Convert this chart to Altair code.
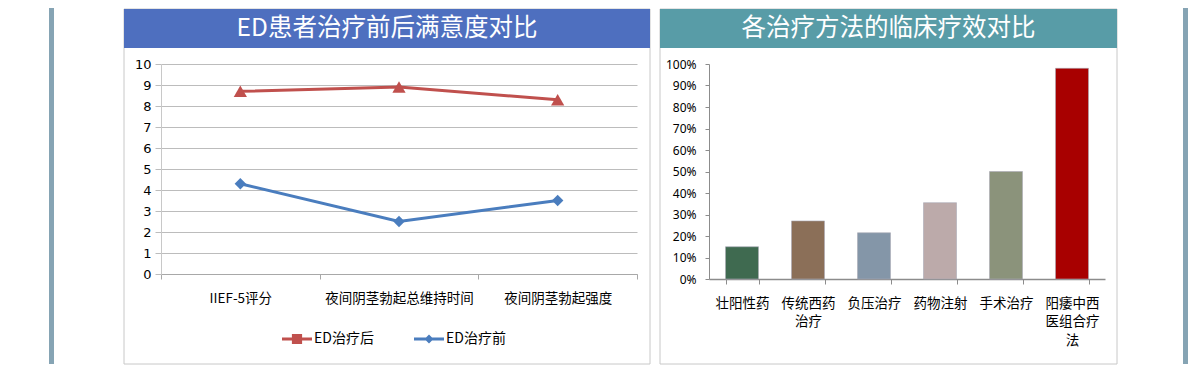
import altair as alt
import pandas as pd

# ---------------- data ----------------
titles = ["ED患者治疗前后满意度对比", "各治疗方法的临床疗效对比"]

metrics = ["IIEF-5评分", "夜间阴茎勃起总维持时间", "夜间阴茎勃起强度"]
series_names = ["ED治疗后", "ED治疗前"]
after_vals = [8.7, 8.9, 8.3]
before_vals = [4.3, 2.5, 3.5]
left_ticks = [0, 1, 2, 3, 4, 5, 6, 7, 8, 9, 10]

methods = ["壮阳性药", "传统西药治疗", "负压治疗", "药物注射", "手术治疗", "阳痿中西医组合疗法"]
efficacy = [0.15, 0.27, 0.215, 0.355, 0.50, 0.98]
right_ticks = [0, 0.1, 0.2, 0.3, 0.4, 0.5, 0.6, 0.7, 0.8, 0.9, 1.0]

# ---------------- styles ----------------
CJK = "Noto Sans CJK SC"
LAT = "Noto Sans"
RED, BLUE = "#c0504d", "#4a7dbe"
line_colors = [RED, BLUE]
bar_colors = ["#3f6a50", "#8b6f58", "#8496a8", "#bcaaaa", "#8b937b", "#a80000"]
side_bar = "#86a4b4"
border = "#c8c8c8"

left_df = pd.DataFrame({
    "metric": metrics * 2,
    "series": [series_names[0]] * 3 + [series_names[1]] * 3,
    "value": after_vals + before_vals,
})
right_df = pd.DataFrame({"method": methods, "eff": efficacy})

# legend symbols: line + marker
path_after = "M-1,-0.1H1V0.1H-1Z M-0.34,-0.34H0.34V0.34H-0.34Z"
path_before = "M-1,-0.1H1V0.1H-1Z M0,-0.3L0.3,0L0,0.3L-0.3,0Z"

# ---------------- left panel ----------------
LW, LH = 476, 210
t_left = pd.DataFrame({"t": [titles[0]]})
base_deco_l = alt.Chart(t_left)
deco_l = alt.layer(
    base_deco_l.mark_rect(color=side_bar).encode(
        x=alt.value(-112), x2=alt.value(-107), y=alt.value(-56), y2=alt.value(300)),
    base_deco_l.mark_rect(fillOpacity=0, stroke=border, strokeWidth=1).encode(
        x=alt.value(-37), x2=alt.value(489), y=alt.value(-55), y2=alt.value(300)),
    base_deco_l.mark_rect(color="#4e6fbf").encode(
        x=alt.value(-37), x2=alt.value(489), y=alt.value(-55), y2=alt.value(-16)),
    base_deco_l.mark_text(color="white", font=CJK, fontSize=24.5, align="center",
                          baseline="middle").encode(
        text="t:N", x=alt.value(226), y=alt.value(-35)),
)

xl = alt.X("metric:N", sort=metrics, title=None, bandPosition=0.5,
           scale=alt.Scale(type="band", paddingInner=0, paddingOuter=0),
           axis=alt.Axis(labelAngle=0, labelFont=CJK, labelFontSize=13.5, labelColor="#000",
                         labelPadding=12, tickSize=5, tickBand="extent", tickColor="#a8a8a8",
                         domainColor="#a8a8a8", grid=False))
yl = alt.Y("value:Q", title=None, scale=alt.Scale(domain=[0, 10], nice=False),
           axis=alt.Axis(values=left_ticks, grid=True, gridColor="#bcbcbc", tickSize=6,
                         tickColor="#bcbcbc", domainColor="#c8c8c8", labelFont="DejaVu Sans",
                         labelFontSize=13, labelColor="#000", labelPadding=4))

base_l = alt.Chart(left_df)
after_only = base_l.transform_filter(alt.datum.series == series_names[0])
before_only = base_l.transform_filter(alt.datum.series == series_names[1])

line_after = after_only.mark_line(strokeWidth=3, color=RED).encode(x=xl, y=yl)
line_before = before_only.mark_line(strokeWidth=3, color=BLUE).encode(x=xl, y=yl)
pts_after = after_only.mark_point(shape="triangle-up", filled=True, size=175, opacity=1,
                                  color=RED).encode(x=xl, y=yl)
pts_before = before_only.mark_point(shape="diamond", filled=True, size=130, opacity=1,
                                    color=BLUE).encode(x=xl, y=yl)

leg = alt.Legend(title=None, orient="none", legendX=121, legendY=260, direction="horizontal",
                 columns=2, columnPadding=40, symbolSize=900, symbolStrokeWidth=0,
                 symbolOpacity=1, symbolFillColor="#888888", labelFont=CJK, labelFontSize=14,
                 labelColor="#000", labelOffset=2, padding=0)
legend_layer = base_l.mark_point(filled=True, opacity=0).encode(
    x=xl, y=yl,
    color=alt.Color("series:N", scale=alt.Scale(domain=series_names, range=line_colors),
                    legend=leg),
    shape=alt.Shape("series:N", scale=alt.Scale(domain=series_names,
                                                range=[path_after, path_before]),
                    legend=leg),
)

left = alt.layer(deco_l, legend_layer, line_after, line_before, pts_after,
                 pts_before).properties(width=LW, height=LH)

# ---------------- right panel ----------------
RW, RH = 396, 215
t_right = pd.DataFrame({"t": [titles[1]]})
base_deco_r = alt.Chart(t_right)
deco_r = alt.layer(
    base_deco_r.mark_rect(color=side_bar).encode(
        x=alt.value(474), x2=alt.value(479), y=alt.value(-56), y2=alt.value(300)),
    base_deco_r.mark_rect(fillOpacity=0, stroke=border, strokeWidth=1).encode(
        x=alt.value(-49), x2=alt.value(408), y=alt.value(-55), y2=alt.value(300)),
    base_deco_r.mark_rect(color="#589ca7").encode(
        x=alt.value(-49), x2=alt.value(408), y=alt.value(-55), y2=alt.value(-16)),
    base_deco_r.mark_text(color="white", font=CJK, fontSize=24.5, align="center",
                          baseline="middle").encode(
        text="t:N", x=alt.value(179.5), y=alt.value(-35)),
)

bars = alt.Chart(right_df).mark_bar(stroke="#a9aab6", strokeWidth=0.6).encode(
    x=alt.X("method:N", sort=methods, title=None,
            scale=alt.Scale(paddingInner=0.5, paddingOuter=0.25),
            axis=alt.Axis(labelAngle=0, labelFont=CJK, labelFontSize=13.5, labelColor="#000",
                          labelPadding=12, labelLineHeight=18.5, tickSize=5, tickBand="extent",
                          tickColor="#8c8c8c", domainColor="#8c8c8c", domainWidth=1.5,
                          labelExpr="datum.value ? [substring(datum.value,0,4), substring(datum.value,4,8), substring(datum.value,8,12)] : ''")),
    y=alt.Y("eff:Q", title=None, scale=alt.Scale(domain=[0, 1], nice=False),
            axis=alt.Axis(values=right_ticks, format=".0%", grid=False, tickSize=4,
                          tickColor="#8c8c8c", domainColor="#8c8c8c", labelFont=LAT,
                          labelFontSize=12, labelColor="#000", labelPadding=9)),
    color=alt.Color("method:N", sort=methods,
                    scale=alt.Scale(domain=methods, range=bar_colors), legend=None),
)

right = alt.layer(deco_r, bars).properties(width=RW, height=RH)

chart = alt.hconcat(left, right, spacing=72, bounds="flush").resolve_scale(
    color="independent", shape="independent").properties(
    padding={"left": 41, "top": 0, "right": 0, "bottom": 0}
).configure_view(stroke=None)

chart.save("out.html", embed_options={"renderer": "svg", "actions": False})
